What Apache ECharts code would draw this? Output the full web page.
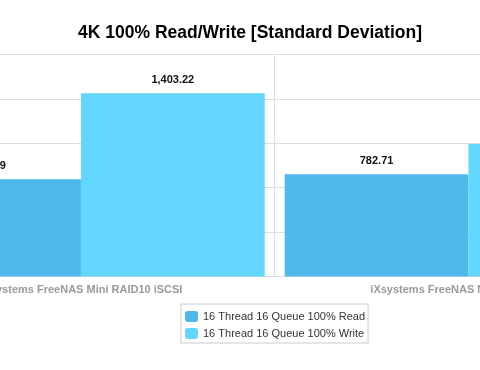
<!DOCTYPE html>
<html>
<head>
<meta charset="utf-8">
<script src="https://cdn.jsdelivr.net/npm/echarts@6/dist/echarts.min.js"></script>
<style>
html,body{margin:0;padding:0;background:#fff;overflow:hidden;width:480px;height:370px;position:relative}
#c{position:absolute;left:-113px;top:0;width:776px;height:370px}
</style>
</head>
<body>
<div id="c"></div>
<script>
var categories = ['iXsystems FreeNAS Mini RAID10 iSCSI', 'iXsystems FreeNAS Mini RAID10 NFS'];
var seriesNames = ['16 Thread 16 Queue 100% Read', '16 Thread 16 Queue 100% Write'];
var readValues = [744.39, 782.71];
var writeValues = [1403.22, 1015.40];
var yTicks = [0, 340, 680, 1020, 1360, 1700];

var fmt = function (p) {
  return Number(p.value).toLocaleString('en-US', {minimumFractionDigits: 2, maximumFractionDigits: 2});
};
var FONT = 'Liberation Sans, Arial, sans-serif';
var labelStyle = {show: true, position: 'top', distance: 8, formatter: fmt,
  color: '#111', fontWeight: 'bold', fontSize: 11, fontFamily: FONT};

var chart = echarts.init(document.getElementById('c'), null, {renderer: 'canvas'});
chart.setOption({
  animation: false,
  backgroundColor: '#fff',
  title: {
    text: '4K 100% Read/Write [Standard Deviation]',
    left: 358, textAlign: 'center', top: 19,
    textStyle: {fontSize: 17.5, fontWeight: 'bold', color: '#000', fontFamily: FONT}
  },
  legend: {
    orient: 'vertical', left: 294, top: 304,
    padding: [7, 3, 4, 4],
    itemGap: 6,
    itemWidth: 13, itemHeight: 11,
    borderColor: '#cccccc', borderWidth: 1,
    backgroundColor: '#fff',
    textStyle: {fontSize: 11, color: '#333', fontFamily: FONT},
    data: seriesNames
  },
  grid: {left: 0.2, right: 0.8, top: 54.5, bottom: 93.5, containLabel: false},
  xAxis: {
    type: 'category', data: categories, boundaryGap: true,
    axisLine: {show: true, lineStyle: {color: '#dddddd'}},
    axisTick: {show: false},
    splitLine: {show: true, lineStyle: {color: '#dddddd'}},
    axisLabel: {margin: 8, color: '#9a9a9a', fontWeight: 'bold', fontSize: 11, fontFamily: FONT, interval: 0}
  },
  yAxis: {
    type: 'value', min: yTicks[0], max: yTicks[yTicks.length - 1], interval: yTicks[1] - yTicks[0],
    axisLine: {show: false}, axisTick: {show: false}, axisLabel: {show: false},
    splitLine: {show: true, lineStyle: {color: '#dddddd'}}
  },
  series: [
    {name: seriesNames[0], type: 'bar', data: readValues, barGap: '0%', barCategoryGap: 20,
     itemStyle: {color: '#4eb8eb'}, label: labelStyle},
    {name: seriesNames[1], type: 'bar', data: writeValues, barGap: '0%', barCategoryGap: 20,
     itemStyle: {color: '#62d6fd'}, label: labelStyle}
  ]
});
</script>
</body>
</html>
